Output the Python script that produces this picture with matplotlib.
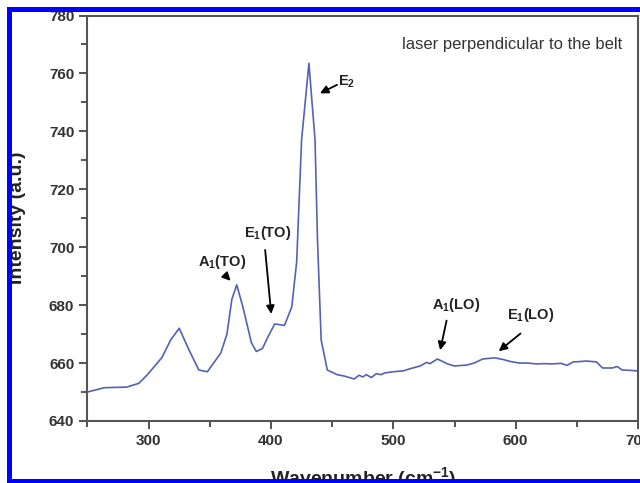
import matplotlib
matplotlib.use('Agg')
import matplotlib.pyplot as plt
from matplotlib.patches import Rectangle
from matplotlib.ticker import MultipleLocator

plt.rcParams['font.family'] = ['Liberation Sans', 'DejaVu Sans']
plt.rcParams['mathtext.fontset'] = 'custom'
plt.rcParams['mathtext.rm'] = 'Liberation Sans'
plt.rcParams['mathtext.bf'] = 'Liberation Sans:bold'

# spectrum
wavenumber = [250, 264, 282, 292, 299, 311, 318, 325, 333, 341,
              348, 359, 364, 368, 372, 377, 384, 388, 393, 397,
              403, 411, 417, 421, 425, 431, 436, 438, 441, 446,
              454, 460, 468, 472, 475, 478, 482, 486, 490, 493,
              500, 508, 515, 522, 527, 530, 533, 536, 540, 545,
              550, 560, 566, 573, 583, 590, 596, 603, 610, 617,
              624, 630, 637, 642, 647, 652, 658, 666, 671, 679,
              683, 687, 693, 699, 700]
intensity = [650, 651.5, 651.7, 653, 656, 662, 668, 672, 664.5, 657.6,
             657, 663.5, 670, 682, 687, 679.4, 667, 664, 665, 668.6,
             673.5, 673, 679.4, 695, 737, 763.5, 737, 702.6, 668, 657.6,
             656, 655.5, 654.5, 655.8, 655.2, 656, 655, 656.3, 656, 656.6,
             657, 657.3, 658.2, 659, 660.2, 659.8, 660.6, 661.4, 660.6, 659.6,
             659, 659.3, 660, 661.4, 661.8, 661.2, 660.5, 660, 660, 659.7,
             659.8, 659.7, 659.9, 659.2, 660.4, 660.5, 660.7, 660.4, 658.3, 658.3,
             658.8, 657.6, 657.5, 657.3, 657.2]

# mode labels: text, text position, arrow tail, arrow head
mode_labels = [r'E$_\mathbf{2}$', r'A$_\mathbf{1}$(TO)', r'E$_\mathbf{1}$(TO)',
               r'A$_\mathbf{1}$(LO)', r'E$_\mathbf{1}$(LO)']
label_xy = [(462, 757), (360, 695), (397, 705), (551, 680), (612, 676.6)]
tail_xy = [(456, 756.5), (361, 691), (395, 700), (544, 675.6), (605.7, 670.8)]
head_xy = [(438, 752.7), (368.6, 687.7), (400.4, 676), (537.8, 663.5), (584.4, 663.5)]

fig = plt.figure(figsize=(6.4, 4.83), dpi=100)
ax = fig.add_axes([0.1367, 0.1284, 0.8602, 0.8395])

ax.plot(wavenumber, intensity, color='#5561b5', lw=1.2)

ax.set_xlim(250, 700)
ax.set_ylim(640, 780)
ax.xaxis.set_major_locator(MultipleLocator(100))
ax.xaxis.set_minor_locator(MultipleLocator(50))
ax.yaxis.set_major_locator(MultipleLocator(20))
ax.yaxis.set_minor_locator(MultipleLocator(10))
ax.tick_params(which='both', direction='out', color='#444444', width=1.3)
ax.tick_params(which='major', length=6, labelsize=11, labelcolor='#333333')
ax.tick_params(which='minor', length=4)
for lab in ax.get_xticklabels() + ax.get_yticklabels():
    lab.set_fontweight('bold')
for s in ax.spines.values():
    s.set_color('#555555')
    s.set_linewidth(1.5)

ax.set_xlabel(r'Wavenumber (cm$^{\mathbf{-1}}$)', fontsize=14, fontweight='bold', color='#222222')
ax.set_ylabel('Intensity (a.u.)', fontsize=14, fontweight='bold', color='#222222')
ax.xaxis.set_label_coords(0.5, -0.11)
ax.yaxis.set_label_coords(-0.112, 0.5)

ax.text(687.5, 770, 'laser perpendicular to the belt', fontsize=12,
        color='#333333', ha='right', va='center')

for txt, (lx, ly), (tx, ty), (hx, hy) in zip(mode_labels, label_xy, tail_xy, head_xy):
    ax.text(lx, ly, txt, fontsize=10.5, fontweight='bold', color='#222222',
            ha='center', va='center')
    ax.annotate('', xy=(hx, hy), xytext=(tx, ty),
                arrowprops=dict(arrowstyle='-|>', color='k', lw=1.3, mutation_scale=12))

# white outside and blue selection frame
W, H = 640.0, 483.0
fig.patches.append(Rectangle((0, 0), 7 / W, 1, transform=fig.transFigure,
                             facecolor='white', edgecolor='none', zorder=10))
fig.patches.append(Rectangle((0, 1 - 7 / H), 1, 7 / H, transform=fig.transFigure,
                             facecolor='white', edgecolor='none', zorder=10))
fig.patches.append(Rectangle((7 / W, 1 - 12 / H), 1, 5 / H, transform=fig.transFigure,
                             facecolor='#0000ff', edgecolor='none', zorder=11))
fig.patches.append(Rectangle((7 / W, 0), 5 / W, 1 - 7 / H, transform=fig.transFigure,
                             facecolor='#0000ff', edgecolor='none', zorder=11))
fig.patches.append(Rectangle((7 / W, 0), 1, 4 / H, transform=fig.transFigure,
                             facecolor='#0000ff', edgecolor='none', zorder=11))

fig.savefig('out.png', dpi=100)
